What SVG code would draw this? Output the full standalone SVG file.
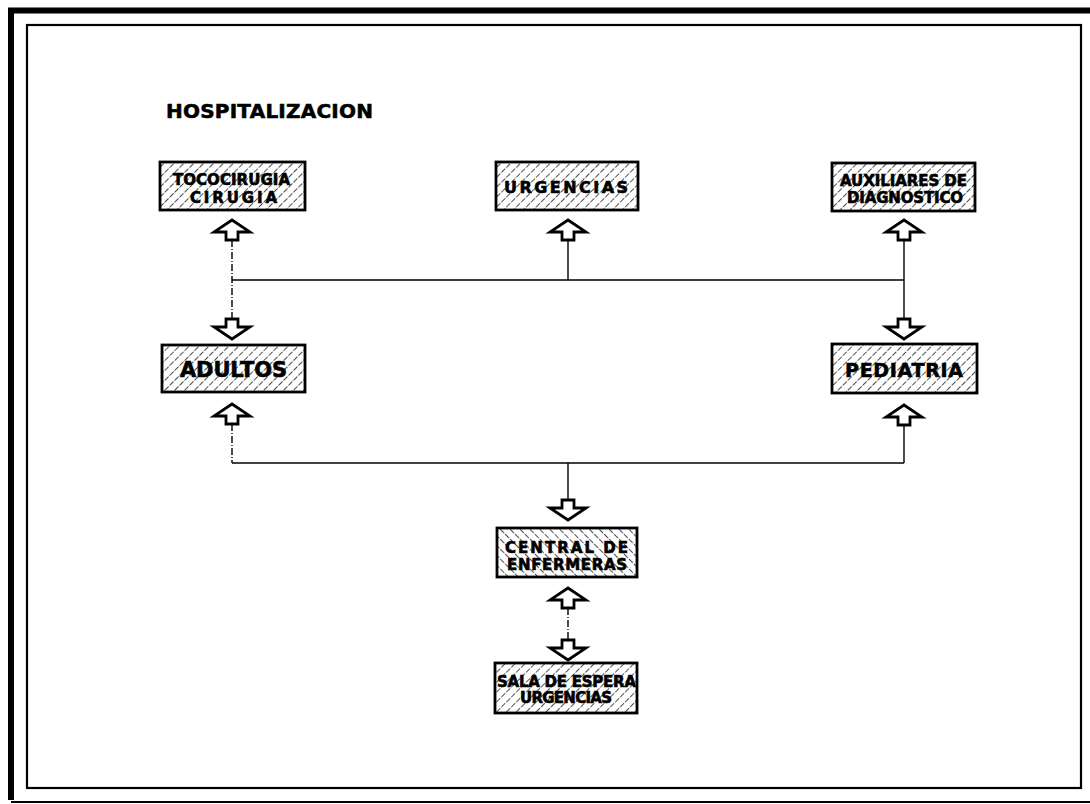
<svg xmlns="http://www.w3.org/2000/svg" width="1090" height="804" viewBox="0 0 1090 804">
<style>
.frame{fill:none;stroke:#000}
.box{stroke:#000;stroke-width:2.8}
.hf{fill:url(#hatchR)}
.hb{fill:url(#hatchL)}
.t{font-family:"DejaVu Sans","Liberation Sans",Arial,sans-serif;font-weight:bold;fill:#000;stroke:#000;stroke-width:0.6}
.arr{fill:#fff;stroke:#000;stroke-width:2.8;stroke-linejoin:miter}
.ln{fill:none;stroke:#000;stroke-width:1.4}
.dd{stroke-dasharray:7 2 1 2}
</style>
<defs>
<pattern id="hatchR" patternUnits="userSpaceOnUse" width="7" height="7" patternTransform="rotate(45)">
<rect width="7" height="7" fill="#fff"/>
<line x1="0" y1="0" x2="0" y2="7" stroke="#000" stroke-width="1.4" stroke-dasharray="5.5 1.5"/>
</pattern>
<pattern id="hatchL" patternUnits="userSpaceOnUse" width="7" height="7" patternTransform="rotate(-45)">
<rect width="7" height="7" fill="#fff"/>
<line x1="0" y1="0" x2="0" y2="7" stroke="#000" stroke-width="1.4" stroke-dasharray="5.5 1.5"/>
</pattern>
<path id="up" class="arr" d="M0,0 L18,12 L6,12 L6,20 L-6,20 L-6,12 L-18,12 Z"/>
<path id="down" class="arr" d="M0,20 L18,8 L6,8 L6,0 L-6,0 L-6,8 L-18,8 Z"/>
</defs>
<rect width="1090" height="804" fill="#fff"/>
<g id="frame">
<path class="frame" stroke-width="6" d="M1095,10.5 H11 V800"/>
<path class="frame" stroke-width="2" d="M11,802 H1095"/>
<rect class="frame" stroke-width="2.2" x="27" y="25" width="1054" height="763"/>
</g>
<text class="t" x="166" y="118" font-size="20" textLength="207">HOSPITALIZACION</text>
<g id="connectors">
<line class="ln dd" x1="232" y1="240" x2="232" y2="319"/>
<line class="ln" x1="232" y1="280" x2="904" y2="280"/>
<line class="ln" x1="568" y1="240" x2="568" y2="280"/>
<line class="ln" x1="904" y1="240" x2="904" y2="319"/>
<line class="ln dd" x1="232" y1="424" x2="232" y2="463"/>
<line class="ln" x1="232" y1="463" x2="904" y2="463"/>
<line class="ln" x1="904" y1="425" x2="904" y2="463"/>
<line class="ln" x1="568" y1="463" x2="568" y2="500"/>
<line class="ln dd" x1="568" y1="608" x2="568" y2="640"/>
<use href="#up" x="232" y="220"/>
<use href="#up" x="568" y="220"/>
<use href="#up" x="904" y="220"/>
<use href="#down" x="232" y="319"/>
<use href="#down" x="904" y="319"/>
<use href="#up" x="232" y="404"/>
<use href="#up" x="904" y="405"/>
<use href="#down" x="568" y="500"/>
<use href="#up" x="568" y="588"/>
<use href="#down" x="568" y="640"/>
</g>
<g id="tococirugia">
<rect class="box hf" x="160" y="162" width="145" height="48"/>
<text class="t" x="173" y="185" font-size="15" textLength="117">TOCOCIRUGIA</text>
<text class="t" x="190" y="203" font-size="15" textLength="87">CIRUGIA</text>
</g>
<g id="urgencias">
<rect class="box hf" x="496" y="162" width="142" height="48"/>
<text class="t" x="504" y="193" font-size="16" textLength="124">URGENCIAS</text>
</g>
<g id="auxiliares">
<rect class="box hf" x="832" y="163" width="143" height="48"/>
<text class="t" x="840" y="186" font-size="15" textLength="127">AUXILIARES DE</text>
<text class="t" x="847" y="203" font-size="15" textLength="116">DIAGNOSTICO</text>
</g>
<g id="adultos">
<rect class="box hf" x="162" y="345" width="143" height="47"/>
<text class="t" x="180" y="377" font-size="21" textLength="107">ADULTOS</text>
</g>
<g id="pediatria">
<rect class="box hf" x="832" y="344" width="145" height="49"/>
<text class="t" x="845" y="377" font-size="19" textLength="118">PEDIATRIA</text>
</g>
<g id="central">
<rect class="box hb" x="497" y="528" width="140" height="49"/>
<text class="t" x="505" y="553" font-size="15" textLength="123">CENTRAL DE</text>
<text class="t" x="507" y="570" font-size="15" textLength="120">ENFERMERAS</text>
</g>
<g id="sala">
<rect class="box hf" x="495" y="663" width="142" height="50"/>
<text class="t" x="497" y="687" font-size="15" textLength="139">SALA DE ESPERA</text>
<text class="t" x="520" y="703" font-size="15" textLength="92">URGENCIAS</text>
</g>
</svg>
